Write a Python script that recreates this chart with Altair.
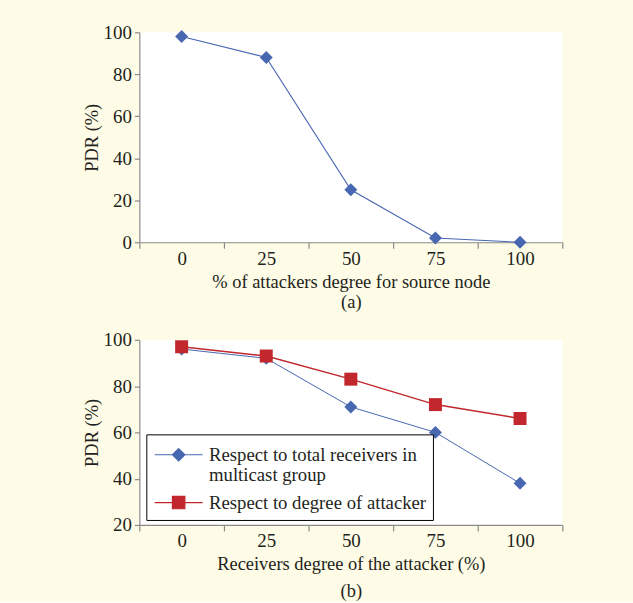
import altair as alt
import pandas as pd

# ---------------- data ----------------
x_vals = [0, 25, 50, 75, 100]
pdr_a = [98, 88, 25, 2, 0]

series_names = [
    "Respect to total receivers in multicast group",
    "Respect to degree of attacker",
]
pdr_b_total = [96, 92, 71, 60, 38]
pdr_b_degree = [97, 93, 83, 72, 66]

x_title_a = ["% of attackers degree for source node", "(a)"]
x_title_b = ["Receivers degree of the attacker (%)", "(b)"]
y_title = "PDR (%)"

# ---------------- styling ----------------
FONT = "Liberation Serif"
BLUE = "#4767B0"
RED = "#C1272D"
BG = "#FEFCE6"
AXIS_GRAY = "#8A8A8A"
TEXT = "#231F20"
LABEL_FS = 19
TITLE_FS = 18.5

df_a = pd.DataFrame({"x": x_vals, "pdr": pdr_a})
df_b = pd.DataFrame(
    {
        "x": x_vals * 2,
        "pdr": pdr_b_total + pdr_b_degree,
        "series": [series_names[0]] * len(x_vals) + [series_names[1]] * len(x_vals),
    }
)

half = 12.5
boundaries = [v - half for v in x_vals] + [x_vals[-1] + half]
tick_vals = sorted(set(boundaries + x_vals))
x_domain = [x_vals[0] - half, x_vals[-1] + half]


def x_axis(title, line_h):
    return alt.Axis(
        values=tick_vals,
        labelExpr="datum.value % 25 == 0 ? datum.label : ''",
        tickOpacity={"condition": {"test": "datum.value % 25 == 0", "value": 0}, "value": 1},
        title=title,
        titleLineHeight=line_h,
        titlePadding=4,
        labelPadding=1,
        tickSize=6,
        grid=False,
    )


def y_axis(vals):
    return alt.Axis(values=vals, title=y_title, grid=False, tickSize=5, labelPadding=3, titlePadding=2)


# ---------------- panel (a) ----------------
xa = alt.X("x:Q", scale=alt.Scale(domain=x_domain, nice=False, zero=False), axis=x_axis(x_title_a, 21))
ya = alt.Y("pdr:Q", scale=alt.Scale(domain=[0, 100], nice=False), axis=y_axis([0, 20, 40, 60, 80, 100]))

line_a = alt.Chart(df_a).mark_line(color=BLUE, strokeWidth=1.1).encode(x=xa, y=ya)
pts_a = alt.Chart(df_a).mark_point(shape="diamond", filled=True, color=BLUE, size=170, opacity=1).encode(x=xa, y=ya)
panel_a = alt.layer(line_a, pts_a).properties(width=425, height=211)

# ---------------- panel (b) ----------------
xb = alt.X("x:Q", scale=alt.Scale(domain=x_domain, nice=False, zero=False), axis=x_axis(x_title_b, 27))
yb = alt.Y("pdr:Q", scale=alt.Scale(domain=[20, 100], nice=False), axis=y_axis([20, 40, 60, 80, 100]))

color_scale = alt.Scale(domain=series_names, range=[BLUE, RED])
legend_shape_scale = alt.Scale(
    domain=series_names,
    range=[
        "M-1.92,0H1.92M0,-0.5L0.5,0L0,0.5L-0.5,0Z",
        "M-1.92,0H1.92M-0.5,-0.5H0.5V0.5H-0.5Z",
    ],
)

label_expr = (
    "datum.label == '" + series_names[0] + "' ? "
    "['Respect to total receivers in', 'multicast group'] : datum.label"
)

legend = alt.Legend(
    title=None,
    orient="none",
    legendX=7,
    legendY=95,
    strokeColor="black",
    fillColor="white",
    padding=7,
    labelFont=FONT,
    labelFontSize=18.8,
    labelColor=TEXT,
    labelLimit=400,
    labelExpr=label_expr,
    symbolSize=625,
    symbolOffset=12,
    symbolStrokeWidth=1.2,
    symbolOpacity=1,
    labelOffset=17,
    rowPadding=3,
)

base_tot = alt.Chart(df_b).transform_filter(alt.datum.series == series_names[0])
base_deg = alt.Chart(df_b).transform_filter(alt.datum.series == series_names[1])

line_tot = base_tot.mark_line(color=BLUE, strokeWidth=1.0).encode(x=xb, y=yb)
line_deg = base_deg.mark_line(color=RED, strokeWidth=1.5).encode(x=xb, y=yb)
pts_tot = base_tot.mark_point(shape="diamond", filled=True, color=BLUE, size=170, opacity=1).encode(x=xb, y=yb)
pts_deg = base_deg.mark_point(shape="square", filled=True, color=RED, size=170, opacity=1).encode(x=xb, y=yb)

# legend-only layer: no rows pass the filter; the legend entries come from the explicit scale domains
legend_layer = alt.Chart(df_b).transform_filter("false").mark_point(
    size=625, opacity=1, strokeWidth=1.2
).encode(
    x=xb,
    y=yb,
    fill=alt.Fill("series:N", scale=color_scale, legend=legend),
    stroke=alt.Stroke("series:N", scale=color_scale, legend=legend),
    shape=alt.Shape("series:N", scale=legend_shape_scale, legend=legend),
)
panel_b = alt.layer(line_tot, line_deg, pts_tot, pts_deg, legend_layer).properties(width=425, height=186)

chart = (
    alt.vconcat(panel_a, panel_b, spacing=19)
    .resolve_scale(fill="independent", stroke="independent", shape="independent")
    .resolve_legend(fill="independent", stroke="independent", shape="independent")
    .properties(background=BG, padding={"left": 82, "top": 22, "right": 70, "bottom": 0})
    .configure_view(fill="white", stroke=None)
    .configure_axis(
        labelFont=FONT,
        titleFont=FONT,
        labelFontSize=LABEL_FS,
        titleFontSize=TITLE_FS,
        titleFontWeight="normal",
        labelColor=TEXT,
        titleColor=TEXT,
        domainColor=AXIS_GRAY,
        tickColor=AXIS_GRAY,
        domainWidth=1.2,
        tickWidth=1.2,
    )
)

chart.save("out.html", embed_options={"renderer": "svg", "actions": False})
